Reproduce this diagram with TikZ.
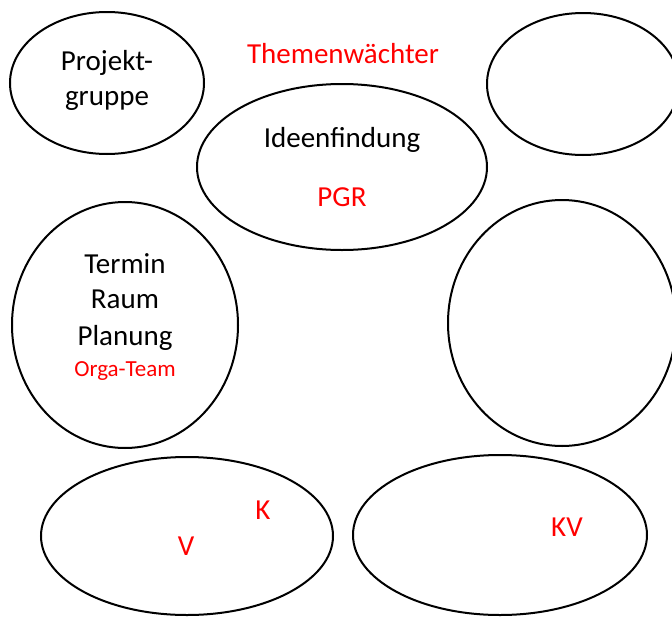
\documentclass[tikz,border=0pt]{standalone}
\usepackage{fontspec}
\setmainfont{Carlito}
\usepackage{tikz}
\usetikzlibrary{shapes.geometric}

\tikzset{
  bubble/.style={draw, ellipse, line width=2pt, inner sep=0pt},
  bigtext/.style={anchor=base, font=\fontsize{29}{35}\selectfont},
  redtext/.style={bigtext, text=red},
  smallred/.style={anchor=base, text=red, font=\fontsize{23}{28}\selectfont}
}

\begin{document}
\begin{tikzpicture}[x=1pt,y=-1pt]
\useasboundingbox (0,0) rectangle (672,616);

% bubbles
\node[bubble, minimum width=194pt, minimum height=142pt] (gruppe) at (107,83) {};
\node[bubble, minimum width=192pt, minimum height=142pt] (leer) at (583,84) {};
\node[bubble, minimum width=290pt, minimum height=166pt] (ideen) at (342,167) {};
\node[bubble, minimum width=226pt, minimum height=246pt] (planung) at (125,325) {};
\node[bubble, minimum width=228pt, minimum height=246pt] (rechts) at (562,323) {};
\node[bubble, minimum width=292pt, minimum height=158pt] (kv1) at (187,536) {};
\node[bubble, minimum width=294pt, minimum height=160pt] (kv2) at (500,535) {};

% texts
\node[bigtext] (projekt) at (107,70) {Projekt-};
\node[bigtext] (gruppetxt) at (107,105) {gruppe};
\node[redtext] (waechter) at (343,63) {Themenwächter};
\node[bigtext] (ideentxt) at (342,147) {Ideenfindung};
\node[redtext] (pgr) at (342,206) {PGR};
\node[bigtext] (termin) at (125,273) {Termin};
\node[bigtext] (raum) at (125,308) {Raum};
\node[bigtext] (plan) at (125,345) {Planung};
\node[smallred] (orga) at (125,376) {Orga-Team};
\node[redtext] (k) at (263,519) {K};
\node[redtext] (v) at (186,555) {V};
\node[redtext] (kv) at (567,536) {KV};
\end{tikzpicture}
\end{document}
